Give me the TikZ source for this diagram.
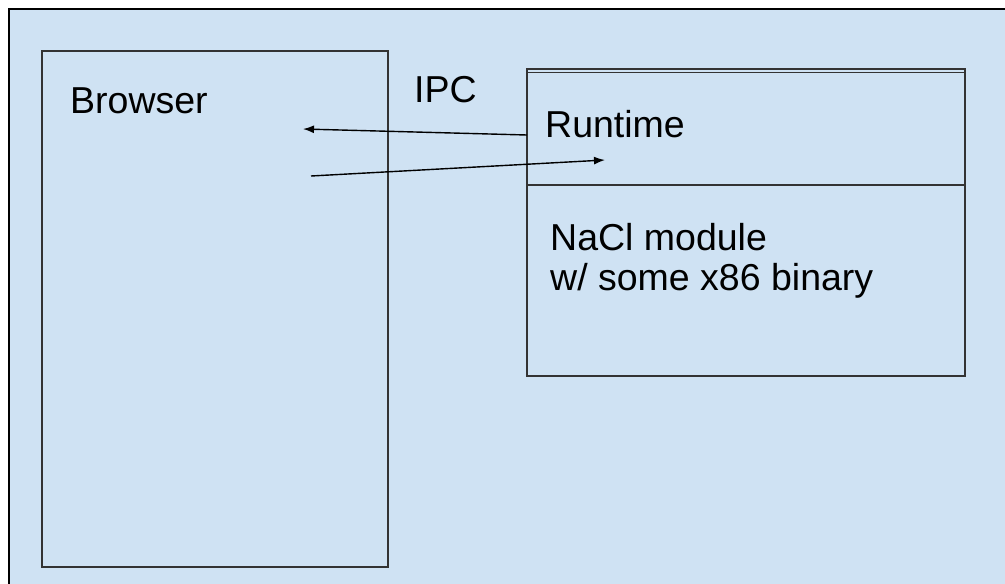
\documentclass[tikz,border=0pt]{standalone}
\usepackage{fontspec}
\setmainfont{Liberation Sans}
\usetikzlibrary{arrows.meta}
\definecolor{bgblue}{HTML}{CFE2F3}
\definecolor{edge}{HTML}{333333}
\begin{document}
\begin{tikzpicture}[x=1pt,y=-1pt,
  box/.style={draw=edge,line width=2pt,fill=none,inner sep=0pt,outer sep=0pt,anchor=north west},
  lbl/.style={inner sep=0pt,anchor=base west,font=\fontsize{37.5}{40}\selectfont,text=black,align=left},
  conn/.style={draw=black,line width=1.4pt,-{Latex[length=11pt,width=8pt]}}]
\useasboundingbox (0,0) rectangle (1005,584);
\begin{scope}
\clip (0,0) rectangle (1005,584);
\draw[fill=bgblue,draw=black,line width=2pt] (9,9) rectangle (1015,594);
\end{scope}
% Browser box
\node[box,minimum width=346pt,minimum height=516pt] (browser) at (42,51) {};
\node[lbl] (browsertxt) at (70,113) {Browser};
% Runtime / NaCl box
\node[box,minimum width=438pt,minimum height=307pt] (nacl) at (527,69) {};
\draw[edge,line width=1.3pt] ([yshift=-3.5pt]nacl.north west) -- ([yshift=-3.5pt]nacl.north east);
\coordinate (sepL) at (527,185);
\coordinate (sepR) at (965,185);
\draw[edge,line width=2pt] (sepL) -- (sepR);
\node[lbl] (runtime) at (545,137) {Runtime};
\node[lbl] (ipc) at (414,102) {IPC};
\node[lbl] (module) at (550,290) {NaCl module\\w/ some x86 binary};
% IPC arrows
\coordinate (a1s) at (527,135);
\coordinate (a1e) at (303,129);
\coordinate (a2s) at (311,176);
\coordinate (a2e) at (605,160);
\draw[conn] (a1s) -- (a1e);
\draw[conn] (a2s) -- (a2e);
\end{tikzpicture}
\end{document}
